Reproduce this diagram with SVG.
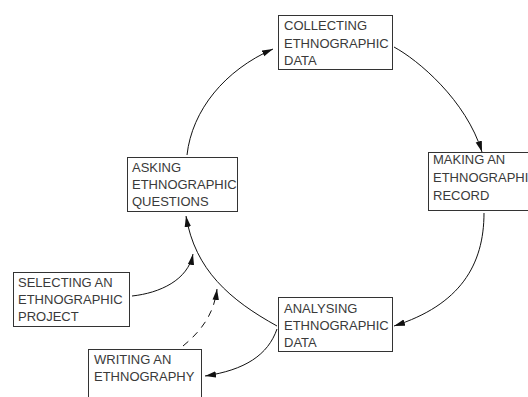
<svg xmlns="http://www.w3.org/2000/svg" width="528" height="397" viewBox="0 0 528 397">
<style>
.box{fill:#fff;stroke:#333;stroke-width:1}
.t{font-family:"Liberation Sans",Arial,sans-serif;font-size:13px;fill:#3a3a3a}
.c{fill:none;stroke:#111;stroke-width:1}
.d{stroke-dasharray:7 6}
</style>
<defs>
<marker id="ah" markerUnits="userSpaceOnUse" markerWidth="12" markerHeight="8" refX="11" refY="4" orient="auto">
<path d="M0,0.8 L11,4 L0,7.2 Z" fill="#111"/>
</marker>
</defs>
<rect width="528" height="397" fill="#fff"/>
<g id="connectors">
<path class="c" d="M187,155 C192,110 225,70 273,49" marker-end="url(#ah)"/>
<path class="c" d="M394,47 C418,60 466,100 482,152" marker-end="url(#ah)"/>
<path class="c" d="M484,213 C484,265 460,305 394,326" marker-end="url(#ah)"/>
<path class="c" d="M277,326 C230,300 195,270 186,216" marker-end="url(#ah)"/>
<path class="c" d="M277,329 C268,355 245,370 205,376" marker-end="url(#ah)"/>
<path class="c" d="M132,296 C160,293 188,280 193,254" marker-end="url(#ah)"/>
<path class="c d" d="M183,346 C200,332 214,315 217,289" marker-end="url(#ah)"/>
</g>
<g id="collecting">
<rect class="box" x="278.5" y="15.5" width="114" height="54"/>
<text class="t" x="284" y="30">COLLECTING</text>
<text class="t" x="284" y="47.5">ETHNOGRAPHIC</text>
<text class="t" x="284" y="64.5">DATA</text>
</g>
<g id="making">
<rect class="box" x="428.5" y="152.5" width="110" height="58"/>
<text class="t" x="433" y="164">MAKING AN</text>
<text class="t" x="433" y="182">ETHNOGRAPHIC</text>
<text class="t" x="433" y="200">RECORD</text>
</g>
<g id="analysing">
<rect class="box" x="278.5" y="297.5" width="114" height="54"/>
<text class="t" x="284" y="312.5">ANALYSING</text>
<text class="t" x="284" y="329.5">ETHNOGRAPHIC</text>
<text class="t" x="284" y="346.5">DATA</text>
</g>
<g id="asking">
<rect class="box" x="127.5" y="157.5" width="110" height="54"/>
<text class="t" x="132" y="172">ASKING</text>
<text class="t" x="132" y="189">ETHNOGRAPHIC</text>
<text class="t" x="132" y="206">QUESTIONS</text>
</g>
<g id="selecting">
<rect class="box" x="13.5" y="272.5" width="116" height="54"/>
<text class="t" x="18" y="287">SELECTING AN</text>
<text class="t" x="18" y="304">ETHNOGRAPHIC</text>
<text class="t" x="18" y="321">PROJECT</text>
</g>
<g id="writing">
<rect class="box" x="88.5" y="349.5" width="113" height="60"/>
<text class="t" x="94" y="364">WRITING AN</text>
<text class="t" x="94" y="381">ETHNOGRAPHY</text>
</g>
</svg>
